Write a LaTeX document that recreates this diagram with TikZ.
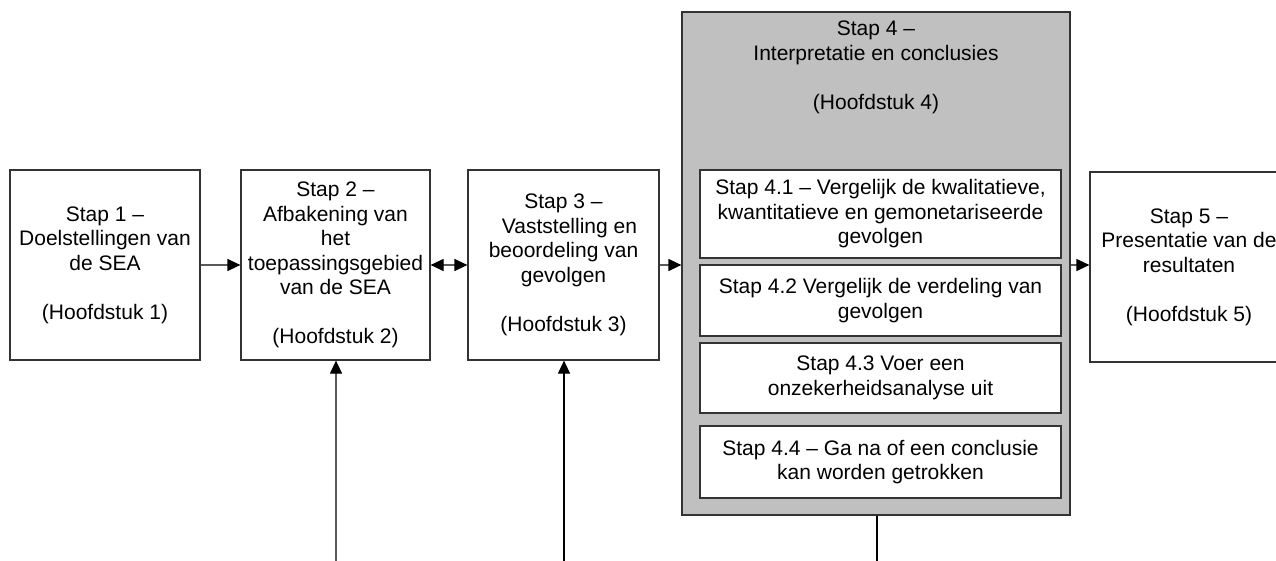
\documentclass[tikz,border=0pt]{standalone}
\usepackage{fontspec}
\setmainfont{Liberation Sans}
\usetikzlibrary{arrows.meta}
\definecolor{boxline}{HTML}{333333}
\definecolor{conline}{HTML}{5A5A5A}
\definecolor{greyfill}{HTML}{C0C0C0}
\tikzset{
  txt/.style={font=\fontsize{21}{24.5}\selectfont, align=center},
  stepbox/.style={txt, draw=boxline, line width=1.2pt, fill=white, inner sep=0pt, minimum height=190pt},
  subbox/.style={txt, draw=boxline, line width=1.2pt, fill=white, inner sep=0pt, minimum width=361pt},
  groupbox/.style={draw=boxline, line width=1.2pt, fill=greyfill, inner sep=0pt},
  conn/.style={draw=conline, line width=1.2pt},
  darkconn/.style={draw=black, line width=1.2pt},
  tip/.style={-{Triangle[length=13pt,width=12pt,color=black]}},
  arr/.style={conn, tip},
  darkarr/.style={darkconn, tip},
  darr/.style={conn, {Triangle[length=13pt,width=12pt,color=black]}-{Triangle[length=13pt,width=12pt,color=black]}}
}
\begin{document}
\begin{tikzpicture}[x=1pt,y=-1pt]
\useasboundingbox (0,0) rectangle (1276,561);
\clip (0,0) rectangle (1276,561);
\fill[white] (0,0) rectangle (1276,561);

\node[stepbox, minimum width=190pt] (b1) at (105,265)
  {Stap 1 --\\Doelstellingen van\\de SEA\\[24.5pt](Hoofdstuk 1)};
\node[stepbox, minimum width=189pt] (b2) at (335.5,265)
  {Stap 2 --\\Afbakening van\\het\\toepassingsgebied\\van de SEA\\[24.5pt](Hoofdstuk 2)};
\node[stepbox, minimum width=191pt] (b3) at (563.5,265)
  {Stap 3 --\\\hspace*{12pt}Vaststelling en\\beoordeling van\\gevolgen\\[24.5pt](Hoofdstuk 3)};
\node[groupbox, minimum width=388pt, minimum height=503pt] (b4) at (876,263.5) {};
\node[txt, anchor=north, inner sep=0pt] (h4) at (876,21)
  {Stap 4 --\\Interpretatie en conclusies\\[24.5pt](Hoofdstuk 4)};
\node[subbox, minimum height=88pt] (s41) at (880.5,214)
  {Stap 4.1 -- Vergelijk de kwalitatieve,\\kwantitatieve en gemonetariseerde\\gevolgen};
\node[subbox, minimum height=71pt] (s42) at (880.5,300.5)
  {Stap 4.2 Vergelijk de verdeling van\\gevolgen};
\node[subbox, minimum height=70pt] (s43) at (880.5,378)
  {Stap 4.3 Voer een\\onzekerheidsanalyse uit};
\node[subbox, minimum height=72pt] (s44) at (880.5,462)
  {Stap 4.4 -- Ga na of een conclusie\\kan worden getrokken};
\node[stepbox, minimum width=198pt] (b5) at (1189,267)
  {Stap 5 --\\Presentatie van de\\resultaten\\[24.5pt](Hoofdstuk 5)};

\coordinate (in2) at (336,561);
\coordinate (in3) at (564,561);
\coordinate (out4) at (877,561);

\draw[arr] (b1.east) -- (b2.west);
\draw[darr] (b2.east) -- (b3.west);
\draw[arr] (b3.east) -- (b3.east -| b4.west);
\draw[arr] (b4.east |- b1.east) -- (b5.west |- b1.east);
\draw[arr] (in2) -- (in2 |- b2.south);
\draw[darkarr] (in3) -- (in3 |- b3.south);
\draw[darkconn] (b4.south -| out4) -- (out4);
\end{tikzpicture}
\end{document}
